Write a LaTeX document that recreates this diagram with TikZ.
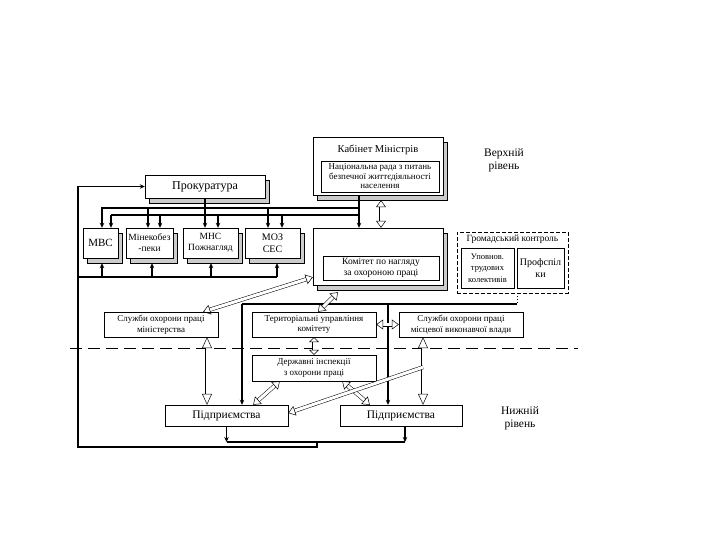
\documentclass[tikz,border=0pt]{standalone}
\usepackage{fontspec}
\setmainfont{Liberation Serif}
\usetikzlibrary{arrows.meta,shadows,calc}

\begin{document}
\begin{tikzpicture}[x=1pt,y=-1pt,
    fs/.style 2 args={font=\fontsize{#1}{#2}\selectfont},
    box/.style={draw,fill=white,inner sep=1pt,align=center},
    bevel/.style={box,general shadow={fill=gray!40,draw,shadow xshift=4pt,shadow yshift=-5pt}},
    bus/.style={line width=1.4pt},
    arr/.style={-{Stealth[length=5pt,width=4.5pt]}},
    hollow/.style={double,double distance=3pt,line width=0.5pt,
        {Triangle[open,length=#1,width=10pt]}-{Triangle[open,length=#1,width=10pt]}},
    hollow/.default=7pt,
    hollowone/.style={double,double distance=3pt,line width=0.5pt,
        -{Triangle[open,length=7pt,width=10pt]}}]
    \useasboundingbox (0,0) rectangle (720,540);

    \coordinate (top) at (0,208);
    \coordinate (low) at (0,215);
    \coordinate (minbus) at (0,277);
    \coordinate (gkbus) at (0,304);
    \coordinate (merge) at (317,442);
    \coordinate (bot) at (0,447);
    \coordinate (left) at (78,0);

    \node[bevel,minimum width=130,minimum height=58] (cab) at (378,166) {};
    \node[fs={10.5}{11}] (cabt) at (378,150) {Кабінет Міністрів};
    \node[box,fs={9}{9.5},minimum width=118,minimum height=31] (rada) at (380,176.5)
        {Національна рада з питань\\безпечної життєдіяльності\\населення};
    \node[fs={11.5}{13},align=center] (upper) at (504,160) {Верхній\\рівень};

    \node[bevel,fs={12}{12},minimum width=120,minimum height=23] (prok) at (205,186.5) {Прокуратура};

    \node[bevel,fs={11}{11},minimum width=35,minimum height=30] (mvs) at (100.5,243) {МВС};
    \node[bevel,fs={9.5}{11},minimum width=47,minimum height=30] (mineko) at (149.5,243) {Мінекобез\\-пеки};
    \node[bevel,fs={9.5}{11},minimum width=55,minimum height=30] (mns) at (210.5,243) {МНС\\Пожнагляд};
    \node[bevel,fs={10}{11.5},minimum width=55,minimum height=30] (moz) at (272.5,243) {МОЗ\\СЕС};

    \node[bevel,minimum width=130,minimum height=57] (kom) at (378,256.5) {};
    \node[box,fs={9.5}{11},minimum width=116,minimum height=24] (komin) at (381,268)
        {Комітет по нагляду\\за охороною праці};

    \node[draw,dashed,dash pattern=on 4pt off 2pt,minimum width=111,minimum height=61] (gk) at (512.5,262.5) {};
    \node[fs={9.5}{10}] (gkt) at (512.5,239.5) {Громадський контроль};
    \node[box,fs={8.5}{11.5},minimum width=53,minimum height=40] (upov) at (487.5,268)
        {Уповнов.\\трудових\\колективів};
    \node[box,fs={10}{12},minimum width=47,minimum height=40] (prof) at (540.5,268) {Профспіл\\ки};

    \node[box,fs={9}{10.5},minimum width=114,minimum height=25] (slmin) at (161,324.5)
        {Служби охорони праці\\міністерства};
    \node[box,fs={9}{10.5},minimum width=124,minimum height=25] (terit) at (314,324.5)
        {Територіальні управління\\комітету};
    \node[box,fs={9}{10.5},minimum width=124,minimum height=25] (slmis) at (461,324.5)
        {Служби охорони праці\\місцевої виконавчої влади};
    \node[box,fs={9}{10.5},minimum width=124,minimum height=26] (derzh) at (314,368)
        {Державні інспекції\\з охорони праці};

    \node[box,fs={11.5}{12},minimum width=123,minimum height=21] (pid1) at (226.5,415.5) {Підприємства};
    \node[box,fs={11.5}{12},minimum width=122,minimum height=21] (pid2) at (401,415.5) {Підприємства};
    \node[fs={11.5}{13},align=center] (lower) at (520,418) {Нижній\\рівень};

    \draw[dashed,dash pattern=on 12pt off 6pt] (70,348) -- (578,348);

    \draw[bus,arr] ([xshift=-19]cab.south) |- ([xshift=1.5]mvs.north |- top) -- ([xshift=1.5]mvs.north);
    \draw[bus,arr] ([xshift=-19]cab.south) -- ([xshift=-19]kom.north);
    \draw[bus] ([xshift=10.5]mvs.north |- low) -- ([xshift=-19]kom.north |- low);
    \foreach \n/\s in {mineko/-1.5,moz/-4.5}
        \draw[bus,arr] ([xshift=\s]\n.north |- top) -- ([xshift=\s]\n.north);
    \foreach \n/\s in {mvs/10.5,mineko/10.5,mns/7.5,moz/9.5}
        \draw[bus,arr] ([xshift=\s]\n.north |- low) -- ([xshift=\s]\n.north);
    \draw[bus,arr] (prok.south) -- (prok.south |- mns.north);

    \draw[bus] (left |- minbus) -- ([xshift=4.5]moz.south |- minbus);
    \foreach \n/\s in {mvs/1.5,mineko/2.5,mns/0.5,moz/4.5}
        \draw[bus,arr] ([xshift=\s]\n.south |- minbus) -- ([xshift=\s,yshift=-5]\n.south);

    \draw[bus,arr] (pid1.south) -- (pid1.south |- merge);
    \draw[bus,arr] ([xshift=4]pid2.south) -- ([xshift=4]pid2.south |- merge);
    \draw[bus] (pid1.south |- merge) -- ([xshift=4]pid2.south |- merge);
    \draw[bus,arr] (merge) |- (left |- bot) -- (left |- prok.west) -- (prok.west);

    \draw[bus] ([xshift=15.5]pid1.north |- gkbus) -- ([xshift=4.5]gk.south |- gkbus);
    \draw[line width=1pt,dotted] ([xshift=4.5]gk.south) -- ([xshift=4.5]gk.south |- gkbus);
    \draw[bus,arr] ([xshift=15.5]pid1.north |- gkbus) -- ([xshift=15.5]pid1.north);
    \draw[bus,arr] ([xshift=-13]pid2.north |- gkbus) -- ([xshift=-13]pid2.north);

    \draw[hollow] ([xshift=3,yshift=-5]cab.south) -- ([xshift=3]kom.north);
    \draw[hollow] ([yshift=8]kom.south west) -- ([xshift=-15]slmin.north east);
    \draw[hollow] ([xshift=-40,yshift=-7]kom.south) -- ([xshift=4]terit.north);
    \draw[hollow] (terit.east) -- (slmis.west);
    \draw[hollow=5pt] (terit.south) -- (derzh.north);
    \draw[hollow=11pt] ([xshift=46]slmin.south) -- ([xshift=46]slmin.south |- pid1.north);
    \draw[hollow=11pt] ([xshift=-38]slmis.south) -- ([xshift=-38]slmis.south |- pid2.north);
    \draw[hollow] ([xshift=28]derzh.south west) -- ([xshift=-35]pid1.north east);
    \draw[hollow] ([xshift=-34]derzh.south east) -- ([xshift=30]pid2.north west);
    \draw[hollowone] ([xshift=-38,yshift=-30]slmis.south) -- ([yshift=2.5]pid1.east);
\end{tikzpicture}
\end{document}
